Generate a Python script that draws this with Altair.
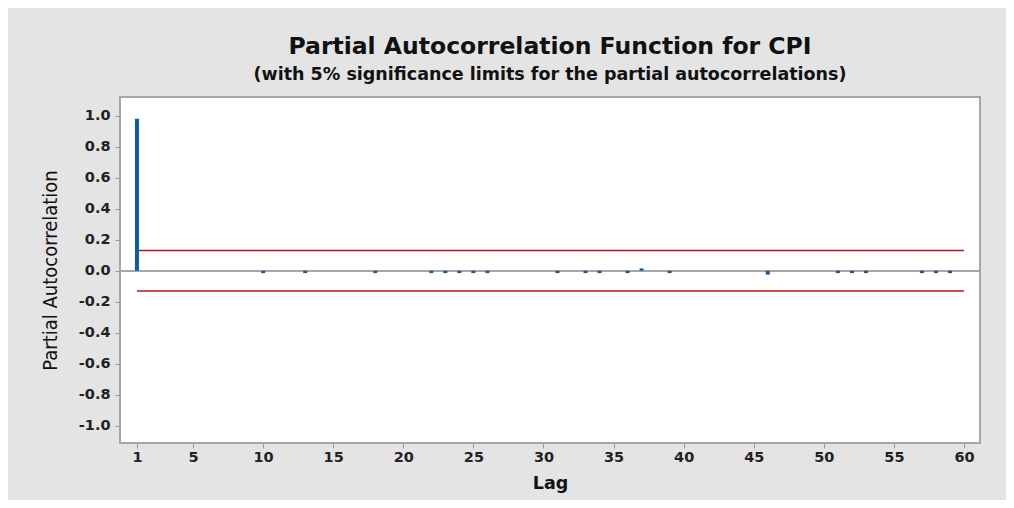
import altair as alt
import pandas as pd

# ---- data ----
lags = list(range(1, 61))
pacf = [0.98, 0, 0, 0, 0, 0, 0, 0, 0, -0.015,
        0, 0, -0.015, 0, 0, 0, 0, -0.015, 0, 0,
        0, -0.015, -0.015, -0.015, -0.015, -0.015, 0, 0, 0, 0,
        -0.015, 0, -0.015, -0.015, 0, -0.015, 0.015, 0, -0.015, 0,
        0, 0, 0, 0, 0, -0.025, 0, 0, 0, 0,
        -0.015, -0.015, -0.015, 0, 0, 0, -0.015, -0.015, -0.015, 0]
sig_limit = 0.13
x_ticks = [1, 5, 10, 15, 20, 25, 30, 35, 40, 45, 50, 55, 60]
y_ticks = [-1.0, -0.8, -0.6, -0.4, -0.2, 0.0, 0.2, 0.4, 0.6, 0.8, 1.0]

df = pd.DataFrame({"lag": lags, "pacf": pacf})
df["base"] = 0.0
df = df[df["pacf"] != 0]
lim = pd.DataFrame({"x1": [lags[0], lags[0]], "x2": [lags[-1], lags[-1]],
                    "y": [sig_limit, -sig_limit]})

xscale = alt.Scale(domain=[-0.21, 61.14], nice=False, zero=False)
yscale = alt.Scale(domain=[-1.11, 1.12], nice=False, zero=False)

label_expr = "(datum.value < -0.001 ? '-' : '') + format(abs(datum.value), '.1f')"

xaxis = alt.Axis(values=x_ticks, title="Lag", grid=False, domain=False,
                 tickSize=5, tickColor="#999999", labelPadding=2,
                 labelFont="DejaVu Sans", labelFontSize=14.5, labelFontWeight="bold",
                 labelColor="#222222",
                 titleFont="DejaVu Sans", titleFontWeight="bold", titleFontSize=17.5,
                 titleColor="#111111", titleY=40, titleBaseline="middle")
yaxis = alt.Axis(values=y_ticks, labelExpr=label_expr, title="Partial Autocorrelation",
                 grid=False, domain=False, tickSize=5, tickColor="#999999",
                 labelPadding=5, labelFont="DejaVu Sans", labelFontSize=14.5,
                 labelFontWeight="bold", labelColor="#222222",
                 titleFont="DejaVu Sans Condensed, Liberation Sans Narrow, Roboto",
                 titleFontWeight="normal", titleFontSize=20, titleColor="#111111",
                 titleAngle=-90, titleX=-70, titleY=173, titleAlign="center",
                 titleBaseline="middle")

zero = alt.Chart(df).mark_rule(color="#A6A6A6", strokeWidth=1.5).encode(
    y=alt.datum(0, scale=yscale, axis=yaxis)
)

limits = alt.Chart(lim).mark_rule(color="#B8161B", strokeWidth=1.5).encode(
    x=alt.X("x1:Q", scale=xscale, axis=xaxis),
    x2="x2:Q",
    y=alt.Y("y:Q", scale=yscale, axis=yaxis),
)

bars = alt.Chart(df).mark_rule(color="#0B5CB0", strokeWidth=4, strokeCap="butt").encode(
    x=alt.X("lag:Q", scale=xscale, axis=xaxis),
    y=alt.Y("pacf:Q", scale=yscale, axis=yaxis),
    y2="base:Q",
)

chart = alt.layer(zero, limits, bars).properties(
    width=860,
    height=346,
    background="#E4E4E4",
    autosize=alt.AutoSizeParams(type="none"),
    padding={"left": 112, "top": 89, "right": 26, "bottom": 57},
    title=alt.TitleParams(
        text="Partial Autocorrelation Function for CPI",
        subtitle="(with 5% significance limits for the partial autocorrelations)",
        anchor="middle", font="DejaVu Sans", fontSize=23.5, fontWeight="bold",
        color="#111111", subtitleFont="DejaVu Sans", subtitleFontSize=17.5,
        subtitleFontWeight="bold", subtitleColor="#111111", subtitlePadding=7,
        offset=14,
    ),
).configure_view(stroke="#A6A6A6", strokeWidth=2, fill="white")

chart.save("out.html", embed_options={"renderer": "svg", "actions": False})
